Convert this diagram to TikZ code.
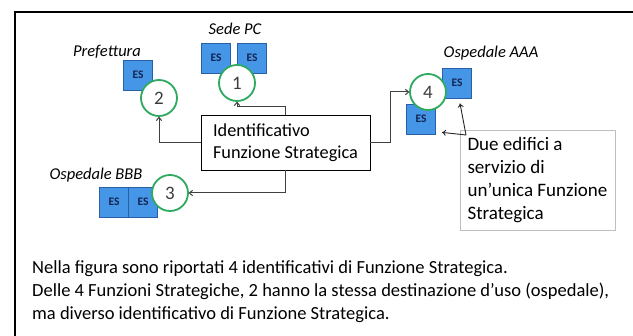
\documentclass[tikz,border=0pt]{standalone}
\usepackage{fontspec}
\setmainfont{Carlito}
\usetikzlibrary{arrows.meta}
\definecolor{esfill}{RGB}{70,150,232}
\definecolor{esdraw}{RGB}{40,95,165}
\definecolor{estext}{RGB}{20,35,80}
\definecolor{cgreen}{RGB}{45,170,95}
\definecolor{ntext}{RGB}{60,60,60}
\begin{document}
\begin{tikzpicture}[x=1pt,y=-1pt,
  esbox/.style={draw=esdraw,fill=esfill,line width=0.8pt,minimum width=29pt,minimum height=30pt,inner sep=0pt,
    font=\fontsize{11.5}{12}\selectfont\bfseries,text=estext},
  numc/.style={circle,draw=cgreen,fill=white,line width=1.8pt,minimum size=36pt,inner sep=0pt,
    font=\fontsize{19}{20}\selectfont,text=ntext},
  lbl/.style={font=\fontsize{16.5}{18}\selectfont\itshape,inner sep=0pt},
  btxt/.style={anchor=base west,inner sep=0pt,font=\fontsize{18.5}{22}\selectfont},
  arr/.style={draw=black!75,line width=1pt,-{To[length=4pt,width=6pt]}},
  carr/.style={draw=black!85,line width=0.9pt,-{To[length=4pt,width=6pt]}}]
\useasboundingbox (0,0) rectangle (633,336);
\fill[white] (0,0) rectangle (633,336);
% frame
\draw[line width=2pt] (15,336) -- (15,12) -- (633,12);
% ES boxes
\node[esbox] (es1a) at (216,58) {ES};
\node[esbox] (es1b) at (252,58) {ES};
\node[esbox] (es2) at (138,75) {ES};
\node[esbox] (es3a) at (114,202) {ES};
\node[esbox] (es3b) at (143,202) {ES};
\node[esbox] (es4a) at (457,83) {ES};
\node[esbox] (es4b) at (421,119) {ES};
% circles
\node[numc] (c1) at (237,83) {1};
\node[numc] (c2) at (159,98) {2};
\node[numc] (c3) at (170,193) {3};
\node[numc] (c4) at (428,92) {4};
% labels
\node[lbl] (l1) at (235,29) {Sede PC};
\node[lbl] (l2) at (107,52) {Prefettura};
\node[lbl] (l3) at (96,175) {Ospedale BBB};
\node[lbl] (l4) at (491,53) {Ospedale AAA};
% central box
\node[draw=black,line width=0.9pt,fill=white,minimum width=169pt,minimum height=55pt,inner sep=0pt,
  align=left,font=\fontsize{18.3}{22}\selectfont] (id) at (285.5,142.5) {Identificativo\\Funzione Strategica};
% connectors
\draw[arr] (id.north) -- ++(0,-8) -| (c1.south);
\draw[arr] (id.west) -| (c2.south);
\draw[arr] (id.south) |- (c3.east);
\draw[arr] (id.east) -- ++(20,0) |- (c4.west);
% callout
\node[draw=black!25,line width=0.6pt,fill=white,minimum width=155pt,minimum height=100pt,
  inner sep=0pt,align=left,font=\fontsize{19}{23}\selectfont] (co) at (537.5,180)
  {Due edifici a\\servizio di\\un’unica Funzione\\Strategica};
\coordinate (cp) at (466,135);
\draw[carr] (cp) -- ([xshift=3pt,yshift=-5pt]es4a.south);
\draw[carr] (cp) -- ([xshift=6pt,yshift=2pt]es4b.south east);
% bottom text
\node[btxt] (t1) at (32,274) {Nella figura sono riportati 4 identificativi di Funzione Strategica.};
\node[btxt] (t2) at (32,297) {Delle 4 Funzioni Strategiche, 2 hanno la stessa destinazione d’uso (ospedale),};
\node[btxt] (t3) at (32,320) {ma diverso identificativo di Funzione Strategica.};
\end{tikzpicture}
\end{document}
